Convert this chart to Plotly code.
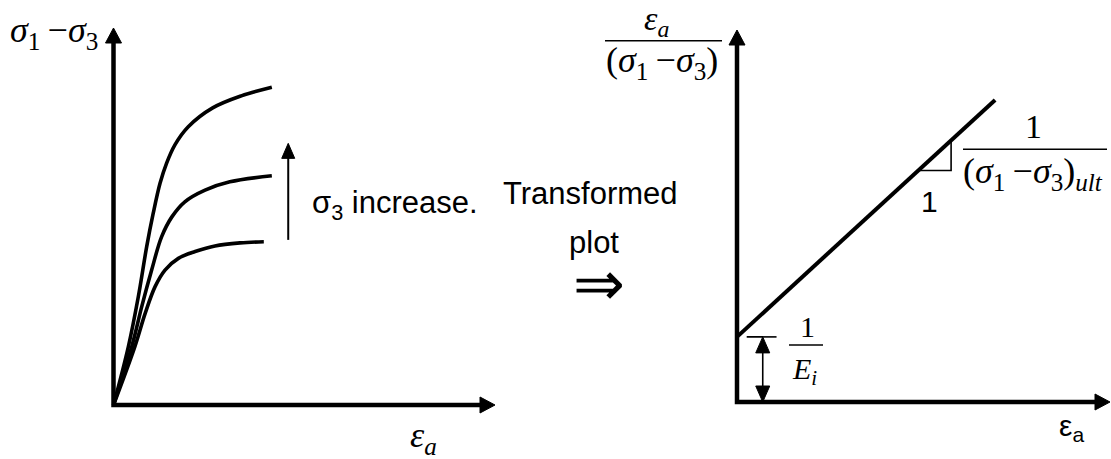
import plotly.graph_objects as go

W, H = 1111, 459

# ---------------- data ----------------
# Left panel: deviator stress (σ1 − σ3) against axial strain εa
# for three confining pressures σ3 (low → high)
eps_low = [0, 0.56, 0.83, 1.09, 1.35, 1.70, 2.14, 2.66, 3.32, 3.94]
dev_low = [0, 1.55, 2.43, 3.14, 3.58, 3.89, 4.07, 4.22, 4.30, 4.33]
eps_mid = [0, 0.48, 0.74, 1.00, 1.26, 1.53, 1.87, 2.40, 3.05, 4.15]
dev_mid = [0, 1.55, 2.61, 3.58, 4.46, 4.99, 5.39, 5.70, 5.92, 6.08]
eps_high = [0, 0.39, 0.65, 0.87, 1.04, 1.22, 1.39, 1.61, 1.96, 2.60, 3.35, 4.15]
dev_high = [0, 1.55, 2.87, 4.20, 5.08, 5.88, 6.41, 6.90, 7.38, 7.88, 8.20, 8.43]

# Right panel: transformed plot εa/(σ1 − σ3) against εa (straight line)
eps_line = [0, 6.92]
ratio_line = [1.75, 8.12]

# strain span of the slope triangle drawn on the line
slope_run = [4.86, 5.74]

# axis lengths (both panels)
axis_len = 10

# ---------------- layout geometry ----------------
# pixel origin and pixel-per-unit scale of each panel
L_ORIG = (113.5, 405.0)
L_SCALE = (38.15, 37.7)
R_ORIG = (737.0, 402.0)
R_SCALE = (37.3, 37.2)
SPLIT = 0.5


def px(x):
    return x / W


def py(y):
    return 1 - y / H


def line_y(x):
    x0, x1 = eps_line
    y0, y1 = ratio_line
    return y0 + (y1 - y0) * (x - x0) / (x1 - x0)


fig = go.Figure()


def add_line(xs, ys, width, panel, shape="linear"):
    xa, ya = ("x", "y") if panel == "L" else ("x2", "y2")
    fig.add_trace(go.Scatter(
        x=xs, y=ys, mode="lines", xaxis=xa, yaxis=ya,
        line=dict(color="black", width=width, shape=shape, smoothing=1.0),
        hoverinfo="skip", showlegend=False))


def add_head(tip_x, tip_y, direction, panel, length=15, width=15):
    """Filled triangular arrow head; length/width given in pixels."""
    sx, sy = L_SCALE if panel == "L" else R_SCALE
    xa, ya = ("x", "y") if panel == "L" else ("x2", "y2")
    if direction in ("up", "down"):
        s = 1 if direction == "up" else -1
        base = tip_y - s * length / sy
        hw = width / 2 / sx
        xs = [tip_x, tip_x - hw, tip_x + hw, tip_x]
        ys = [tip_y, base, base, tip_y]
    else:
        base = tip_x - length / sx
        hw = width / 2 / sy
        xs = [tip_x, base, base, tip_x]
        ys = [tip_y, tip_y - hw, tip_y + hw, tip_y]
    fig.add_trace(go.Scatter(
        x=xs, y=ys, mode="lines", fill="toself", fillcolor="black",
        xaxis=xa, yaxis=ya, line=dict(color="black", width=1),
        hoverinfo="skip", showlegend=False))


# ---- left panel ----
ah_y = 15 / L_SCALE[1]
ah_x = 15 / L_SCALE[0]
add_line([0, 0, axis_len - ah_x], [axis_len - ah_y, 0, 0], 4.5, "L")
add_head(0, axis_len, "up", "L", 15, 16)
add_head(axis_len, 0, "right", "L", 15, 16)

for xs, ys in [(eps_low, dev_low), (eps_mid, dev_mid), (eps_high, dev_high)]:
    add_line(xs, ys, 3.6, "L", shape="spline")

# arrow showing increasing confining pressure
inc_x = 4.58
inc_from, inc_to = 4.38, 6.94
add_line([inc_x, inc_x], [inc_from, inc_to - 14 / L_SCALE[1]], 2, "L")
add_head(inc_x, inc_to, "up", "L", 15, 13)

# ---- right panel ----
rh_y = 15 / R_SCALE[1]
rh_x = 15 / R_SCALE[0]
add_line([0, 0, axis_len - rh_x], [axis_len - rh_y, 0, 0], 4.5, "R")
add_head(0, axis_len, "up", "R", 15, 16)
add_head(axis_len, 0, "right", "R", 15, 16)

add_line(eps_line, ratio_line, 4, "R")

# slope triangle
ta, tb = slope_run
add_line([ta, tb, tb], [line_y(ta), line_y(ta), line_y(tb)], 1.6, "R")

# intercept dimension (1/Ei)
icpt = ratio_line[0]
add_line([0.26, 1.06], [icpt, icpt], 1.6, "R")
dim_x = 0.69
hd = 16 / R_SCALE[1]
add_line([dim_x, dim_x], [hd * 0.9, icpt - hd * 0.9], 1.6, "R")
add_head(dim_x, icpt, "up", "R", 16, 14)
add_head(dim_x, 0, "down", "R", 16, 14)

# ---------------- text ----------------
SERIF = "Liberation Serif"
SANS = "Liberation Sans"
THIN = "\u2009"
ann = []


def text(t, x, y, size, family, xanchor="center"):
    ann.append(dict(text=t, x=px(x), y=py(y), xref="paper", yref="paper",
                    xanchor=xanchor, yanchor="middle", showarrow=False,
                    font=dict(family=family, size=size, color="black")))


dev_label = "<i>σ</i><sub>1</sub>" + THIN + "−<i>σ</i><sub>3</sub>"

text(dev_label, 8, 33, 36, SERIF, "left")
text("<i>ε<sub>a</sub></i>", 408, 437, 36, SERIF, "left")
text("σ<sub>3</sub> increase.", 310, 205, 31, SANS, "left")
text("Transformed", 590, 193, 31, SANS)
text("plot", 594, 242, 31, SANS)
text("⇒", 599, 284, 62, SERIF)

# right y label as a fraction
text("<i>ε<sub>a</sub></i>", 656, 21, 34, SERIF)
text("(" + dev_label + ")", 662, 63, 36, SERIF)
text("1", 929, 202, 30, SANS)
text("1", 1033, 126, 34, SERIF)
text("(" + dev_label + ")<sub><i>ult</i></sub>", 1033, 173, 36, SERIF)
text("1", 807, 326, 30, SERIF)
text("<i>E<sub>i</sub></i>", 804, 371, 30, SERIF)
text("ε<sub>a</sub>", 1057, 427, 30, SANS, "left")

bars = [(605, 722, 40.7), (963, 1107, 149.3), (789, 823, 345)]
shapes = [dict(type="line", xref="paper", yref="paper",
               x0=px(a), x1=px(b), y0=py(y), y1=py(y),
               line=dict(color="black", width=1.6)) for a, b, y in bars]

lx0 = -L_ORIG[0] / L_SCALE[0]
lx1 = (SPLIT * W - L_ORIG[0]) / L_SCALE[0]
ly0 = (L_ORIG[1] - H) / L_SCALE[1]
ly1 = L_ORIG[1] / L_SCALE[1]
rx0 = (SPLIT * W - R_ORIG[0]) / R_SCALE[0]
rx1 = (W - R_ORIG[0]) / R_SCALE[0]
ry0 = (R_ORIG[1] - H) / R_SCALE[1]
ry1 = R_ORIG[1] / R_SCALE[1]

hidden = dict(visible=False, showgrid=False, zeroline=False, fixedrange=True)
fig.update_layout(
    width=W, height=H,
    margin=dict(l=0, r=0, t=0, b=0, pad=0),
    paper_bgcolor="white", plot_bgcolor="rgba(0,0,0,0)",
    showlegend=False,
    xaxis=dict(domain=[0, SPLIT], range=[lx0, lx1], **hidden),
    yaxis=dict(domain=[0, 1], range=[ly0, ly1], **hidden),
    xaxis2=dict(domain=[SPLIT, 1], range=[rx0, rx1], anchor="y2", **hidden),
    yaxis2=dict(domain=[0, 1], range=[ry0, ry1], anchor="x2", **hidden),
    annotations=ann,
    shapes=shapes,
)

fig.write_html("out.html", config={"displayModeBar": False})
